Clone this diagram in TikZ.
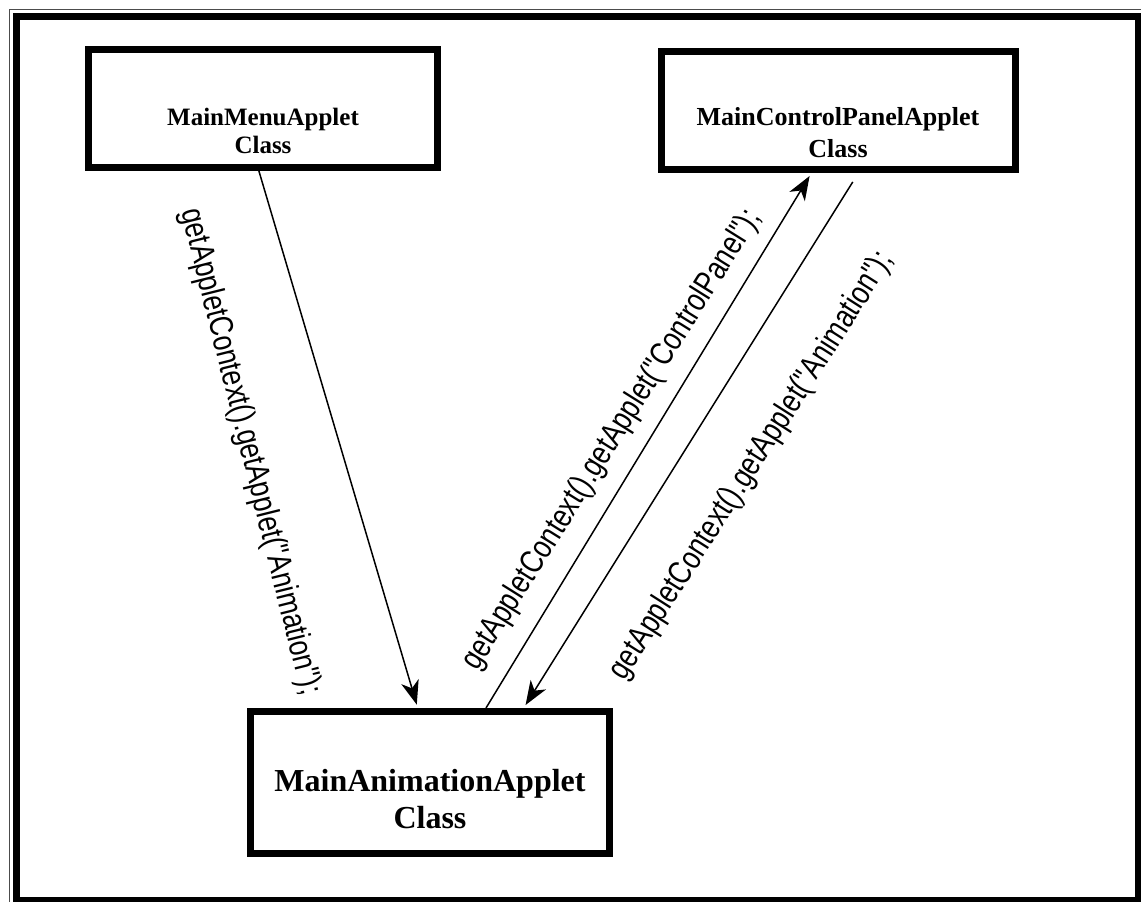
\documentclass[tikz,border=0pt]{standalone}
\usepackage{fontspec}
\setmainfont{Liberation Serif}
\newfontfamily\handfont[FakeStretch=0.8]{Liberation Sans}
\usetikzlibrary{arrows.meta,calc,positioning}

\begin{document}
\begin{tikzpicture}[
    x=1pt, y=-1pt,
    classbox/.style={rectangle, draw, line width=7pt, inner sep=0pt},
    classname/.style 2 args={font=\bfseries\fontsize{#1}{#2}\selectfont, align=center, inner sep=0pt},
    call/.style={font=\handfont\fontsize{33}{36}\selectfont, inner sep=0pt},
    link/.style={line width=1.5pt, -{Stealth[length=24pt, width=18pt, inset=7pt]}, shorten >=3.5pt},
]
\useasboundingbox (0,0) rectangle (1141,902);
\clip (0,0) rectangle (1141,902);

\draw[line width=1pt, black!70] (9.5,9.5) rectangle (1160,920);
\draw[line width=7pt] (16.5,16.5) rectangle (1138.5,900.5);

\node[classbox, minimum width=349, minimum height=118] (menu) at (263,108.5) {};
\node[classbox, minimum width=354, minimum height=118] (panel) at (838.5,110.5) {};
\node[classbox, minimum width=359, minimum height=142] (anim) at (430,782.5) {};

\node[classname={25}{28}] (menutext) at (263,131) {MainMenuApplet\\Class};
\node[classname={26}{32}] (paneltext) at (838,132.5) {MainControlPanelApplet\\Class};
\node[classname={32}{37}] (animtext) at (430,799) {MainAnimationApplet\\Class};

\draw[link] ($(menu.south west)!0.4885!(menu.south east)$) -- ($(anim.north west)!0.4666!(anim.north east)$);
\draw[link] ($(anim.north west)!0.653!(anim.north east)$) -- ($(panel.south west)!0.425!(panel.south east)$);
\draw[link, shorten <=10.5pt] ($(panel.south west)!0.555!(panel.south east)$) -- ($(anim.north west)!0.756!(anim.north east)$);

\node[call, rotate=-76] (menucall) at (250,452) {getAppletContext().getApplet("Animation");};
\node[call, rotate=58] (panelcall) at (612,440) {getAppletContext().getApplet("ControlPanel");};
\node[call, rotate=57.5] (animcall) at (752,466) {getAppletContext().getApplet("Animation");};

\end{tikzpicture}
\end{document}
